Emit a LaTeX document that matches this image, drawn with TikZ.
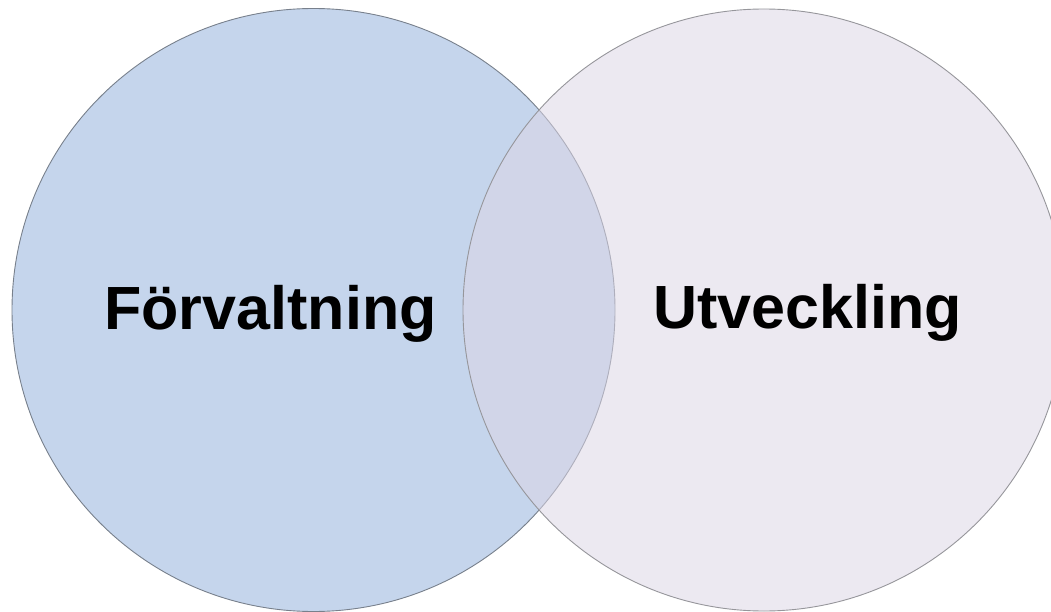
\documentclass[tikz,border=0pt]{standalone}
\usepackage{fontspec}
\setmainfont{Liberation Sans}
\definecolor{leftfill}{RGB}{197,213,236}
\definecolor{rightfill}{RGB}{220,214,229}
\definecolor{leftline}{RGB}{120,128,140}
\definecolor{rightline}{RGB}{150,150,155}
\tikzset{
  vennleft/.style={circle, fill=leftfill, draw=leftline, line width=0.9pt, minimum size=603pt, inner sep=0pt},
  vennright/.style={circle, fill=rightfill, fill opacity=0.54, draw=rightline, draw opacity=1, line width=0.9pt, minimum size=602pt, inner sep=0pt},
  label/.style={font=\bfseries\fontsize{61}{70}\selectfont, text=black, inner sep=0pt, anchor=base}
}
\begin{document}
\begin{tikzpicture}[x=1pt,y=-1pt]
\useasboundingbox (0,0) rectangle (1051,612);
\clip (0,0) rectangle (1051,612);
\node[vennleft] (L) at (313.5,310) {};
\node[vennright] (R) at (764,310) {};
\node[label] (tl) at (270.5,329) {Förvaltning};
\node[label] (tr) at (807.5,328) {Utveckling};
\end{tikzpicture}
\end{document}
